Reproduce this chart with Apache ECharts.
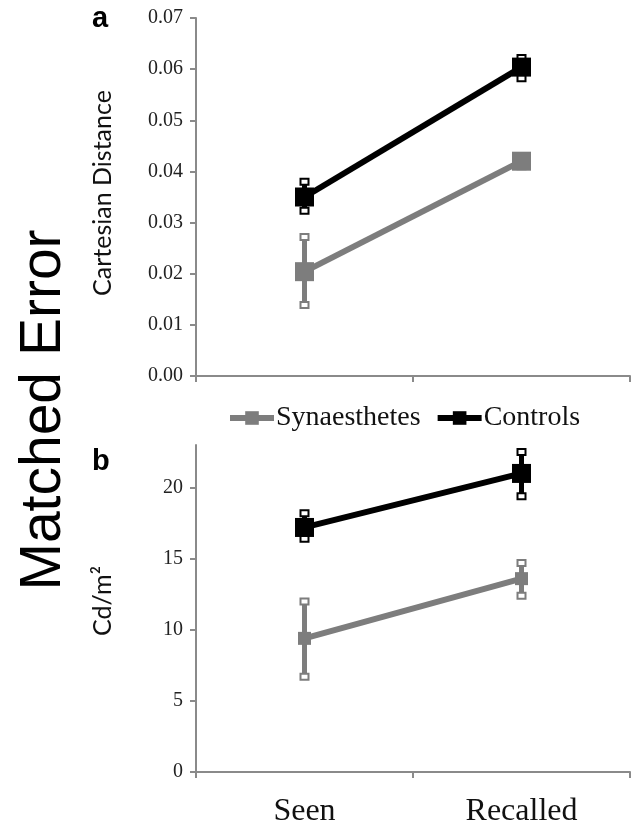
<!DOCTYPE html>
<html>
<head>
<meta charset="utf-8">
<script src="https://cdn.jsdelivr.net/npm/echarts@6/dist/echarts.min.js"></script>
<style>html,body{margin:0;padding:0;background:#fff;}#c{width:634px;height:826px;}</style>
</head>
<body>
<div id="c"></div>
<script>
var categories = ['Seen', 'Recalled'];
var seriesNames = ['Synaesthetes', 'Controls'];
// Panel a: Cartesian Distance
var synDist = [0.0204, 0.0420];
var synDistLo = [0.0139, 0.0410];
var synDistHi = [0.0272, 0.0430];
var ctrlDist = [0.0350, 0.0604];
var ctrlDistLo = [0.0323, 0.0582];
var ctrlDistHi = [0.0380, 0.0622];
// Panel b: Cd/m2
var synLum = [9.4, 13.6];
var synLumLo = [6.7, 12.4];
var synLumHi = [12.0, 14.7];
var ctrlLum = [17.2, 21.0];
var ctrlLumLo = [16.4, 19.4];
var ctrlLumHi = [18.2, 22.5];
var distTicks = [0, 0.01, 0.02, 0.03, 0.04, 0.05, 0.06, 0.07];
var lumTicks = [0, 5, 10, 15, 20];

var GRAY = '#7d7d7d', BLACK = '#000000', AXIS = '#8a8a8a';

function errData(lo, hi) {
  return categories.map(function (c, i) { return [i, lo[i], hi[i]]; });
}
function errRender(color) {
  return function (params, api) {
    var x = api.value(0);
    var pLo = api.coord([x, api.value(1)]);
    var pHi = api.coord([x, api.value(2)]);
    var w = 8, h = 6;
    return {
      type: 'group',
      children: [
        { type: 'line', shape: { x1: pLo[0], y1: pLo[1], x2: pHi[0], y2: pHi[1] }, style: { stroke: color, lineWidth: 5 } },
        { type: 'rect', shape: { x: pHi[0] - w / 2, y: pHi[1] - h / 2, width: w, height: h }, style: { fill: '#fff', stroke: color, lineWidth: 2 } },
        { type: 'rect', shape: { x: pLo[0] - w / 2, y: pLo[1] - h / 2, width: w, height: h }, style: { fill: '#fff', stroke: color, lineWidth: 2 } }
      ]
    };
  };
}
function xAxisCfg(idx, showLabel) {
  return {
    type: 'category', gridIndex: idx, data: categories, boundaryGap: true,
    axisLine: { lineStyle: { color: AXIS, width: 2 } },
    axisTick: { show: true, length: 6, lineStyle: { color: AXIS, width: 2 } },
    axisLabel: { show: showLabel, margin: 24, fontFamily: 'Liberation Serif', fontSize: 32, color: '#111' },
    splitLine: { show: false }
  };
}
function yAxisCfg(idx, max, interval, ticks, fmt) {
  return {
    type: 'value', gridIndex: idx, min: 0, max: max, interval: interval,
    axisLine: { show: true, lineStyle: { color: AXIS, width: 2 } },
    axisTick: { show: true, length: 6, inside: false, customValues: ticks, lineStyle: { color: AXIS, width: 2 } },
    axisLabel: { customValues: ticks, margin: 13, fontFamily: 'Liberation Serif', fontSize: 20, color: '#222', formatter: fmt },
    splitLine: { show: false }
  };
}
function lineSeries(name, data, color, xi, size) {
  return {
    name: name, type: 'line', xAxisIndex: xi, yAxisIndex: xi, data: data,
    symbol: 'rect', symbolSize: size, showSymbol: true,
    lineStyle: { color: color, width: 6 }, itemStyle: { color: color },
    z: 3, animation: false
  };
}
function errSeries(lo, hi, color, xi) {
  return {
    type: 'custom', xAxisIndex: xi, yAxisIndex: xi, data: errData(lo, hi),
    encode: { x: 0, y: [1, 2] }, renderItem: errRender(color), z: 2, silent: true, animation: false
  };
}

var chart = echarts.init(document.getElementById('c'));
chart.setOption({
  animation: false,
  backgroundColor: '#fff',
  grid: [
    { left: 196, right: 4, top: 18, height: 358, outerBoundsMode: 'none', containLabel: false },
    { left: 196, right: 4, top: 445, height: 327, outerBoundsMode: 'none', containLabel: false }
  ],
  xAxis: [xAxisCfg(0, false), xAxisCfg(1, true)],
  yAxis: [
    yAxisCfg(0, 0.07, 0.01, distTicks, function (v) { return v.toFixed(2); }),
    yAxisCfg(1, 23, 5, lumTicks, function (v) { return String(v); })
  ],
  legend: {
    data: seriesNames, left: 222, top: 399, itemWidth: 44, itemHeight: 17, itemGap: 14,
    lineStyle: { width: 6 },
    textStyle: { fontFamily: 'Liberation Serif', fontSize: 28, color: '#111', padding: [0, 0, 0, -3] }
  },
  graphic: [
    { type: 'text', x: 92, y: 33, style: { text: 'a', font: 'bold 29px "Liberation Sans"', fill: '#000', verticalAlign: 'bottom' } },
    { type: 'text', x: 92, y: 476, style: { text: 'b', font: 'bold 29px "Liberation Sans"', fill: '#000', verticalAlign: 'bottom' } },
    { type: 'text', x: 44, y: 410, rotation: Math.PI / 2, style: { text: 'Matched Error', font: '57px "Liberation Sans"', fill: '#000', align: 'center', verticalAlign: 'middle' } },
    { type: 'text', x: 103, y: 193, rotation: Math.PI / 2, style: { text: 'Cartesian Distance', font: '25px Lato', fill: '#111', align: 'center', verticalAlign: 'middle' } },
    { type: 'text', x: 103, y: 601, rotation: Math.PI / 2, style: { text: 'Cd/m²', font: '25px Lato', fill: '#111', align: 'center', verticalAlign: 'middle' } }
  ],
  series: [
    lineSeries(seriesNames[0], synDist, GRAY, 0, 19),
    lineSeries(seriesNames[1], ctrlDist, BLACK, 0, 19),
    errSeries(synDistLo, synDistHi, GRAY, 0),
    errSeries(ctrlDistLo, ctrlDistHi, BLACK, 0),
    lineSeries(seriesNames[0], synLum, GRAY, 1, 13),
    lineSeries(seriesNames[1], ctrlLum, BLACK, 1, 19),
    errSeries(synLumLo, synLumHi, GRAY, 1),
    errSeries(ctrlLumLo, ctrlLumHi, BLACK, 1)
  ]
});
</script>
</body>
</html>
